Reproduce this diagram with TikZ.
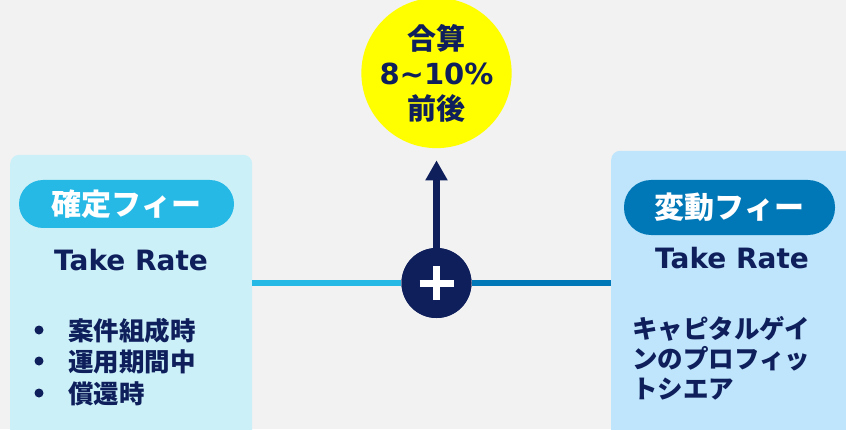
\documentclass[tikz,border=0pt]{standalone}
\usepackage{fontspec}
\setmainfont{DejaVu Sans}
\newfontfamily\jp{Noto Sans CJK JP}
\usetikzlibrary{arrows.meta}
\definecolor{bg}{HTML}{F2F2F2}
\definecolor{navy}{HTML}{0E1F5C}
\definecolor{lbox}{HTML}{CCF0F8}
\definecolor{rbox}{HTML}{BEE5FB}
\definecolor{lpill}{HTML}{27B9E6}
\definecolor{rpill}{HTML}{0077B6}
\definecolor{yel}{HTML}{FFFF00}
\tikzset{
  panel/.style={rounded corners=9pt, draw=none},
  pill/.style={rounded corners=24pt, minimum height=48pt, inner sep=0pt, text=white, font=\jp\bfseries\fontsize{30}{30}\selectfont},
  rate/.style={anchor=base, text=navy, font=\bfseries\fontsize{28}{28}\selectfont, inner sep=0pt},
  jtext/.style={anchor=base west, text=navy, font=\jp\bfseries\fontsize{25.5}{25.5}\selectfont, inner sep=0pt},
  dot/.style={circle, fill=navy, inner sep=0pt, minimum size=9pt},
  link/.style={line width=6pt},
  arr/.style={line width=7.5pt, draw=navy, -{Triangle[width=21pt,length=20pt]}}
}
\begin{document}
\begin{tikzpicture}[x=1pt,y=1pt]
\useasboundingbox (0,0) rectangle (846,429);
\fill[bg] (0,0) rectangle (846,429);
\begin{scope}
\clip (0,0) rectangle (846,429);
% panels
\node[panel, fill=lbox, minimum width=242pt, minimum height=294pt, anchor=south west, inner sep=0pt] (leftbox) at (10,-20) {};
\node[panel, fill=rbox, minimum width=255pt, minimum height=298pt, anchor=south west, inner sep=0pt] (rightbox) at (611,-20) {};
% pills
\node[pill, fill=lpill, minimum width=215pt] (lpill) at (126.5,225) {確定フィー};
\node[pill, fill=rpill, minimum width=211pt, minimum height=55pt, rounded corners=27pt] (rpill) at (729.5,221.5) {変動フィー};
% Take Rate
\node[rate] (lrate) at (131,159) {Take Rate};
\node[rate] (rrate) at (732,161) {Take Rate};
% left bullets
\node[jtext] (l1) at (68,89) {案件組成時};
\node[jtext] (l2) at (68,58) {運用期間中};
\node[jtext] (l3) at (68,26) {償還時};
\node[dot] (d1) at (39,99) {};
\node[dot] (d2) at (39,68) {};
\node[dot] (d3) at (39,36) {};
% right text
\node[jtext] (r1) at (632,91) {キャピタルゲイ};
\node[jtext] (r2) at (632,61) {ンのプロフィッ};
\node[jtext] (r3) at (632,31) {トシエア};
\end{scope}
% sum circle
\node[circle, fill=yel, minimum size=140pt, inner sep=0pt, text=navy, align=center,
      font=\bfseries\fontsize{29}{35}\selectfont] (sum) at (436.5,356)
  {{\jp 合算}\\
   8\char"7E 10\%\\
   {\jp 前後}};
% plus circle
\node[circle, fill=navy, minimum size=70pt, inner sep=0pt] (plus) at (436.5,146) {};
\draw[link, draw=lpill] (plus.west) -- (plus.west -| leftbox.east);
\draw[link, draw=rpill] (plus.east) -- (plus.east -| rightbox.west);
\fill[navy] (plus) circle (35pt);
\draw[white, line width=7pt] ([xshift=-17pt]plus.center) -- ([xshift=17pt]plus.center);
\draw[white, line width=7pt] ([yshift=-17pt]plus.center) -- ([yshift=17pt]plus.center);
\draw[arr, shorten >=12pt] (plus.north) -- (sum.south);
\end{tikzpicture}
\end{document}
